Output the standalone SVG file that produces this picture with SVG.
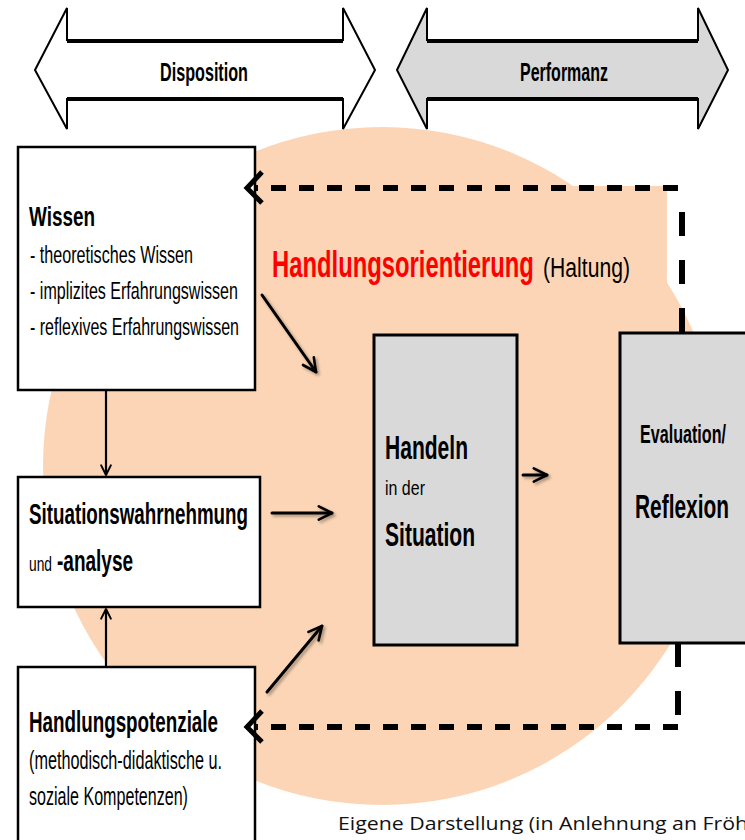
<svg xmlns="http://www.w3.org/2000/svg" width="745" height="840" viewBox="0 0 745 840">
<defs>
<style>
.n{font-family:"Liberation Sans Narrow","Liberation Sans",Arial,sans-serif;fill:#000}
.b{font-weight:bold}
.box{fill:#fff;stroke:#000;stroke-width:2.5}
.gbox{fill:#D9D9D9;stroke:#000;stroke-width:3}
.arr{fill:none;stroke:#000;stroke-width:3;stroke-linecap:round}
.dash{fill:none;stroke:#000;stroke-width:6}
</style>
<marker id="v" viewBox="0 0 10 10" refX="9" refY="5" markerWidth="5.5" markerHeight="5.5" orient="auto" markerUnits="strokeWidth">
<path d="M1,1 L9,5 L1,9" fill="none" stroke="#000" stroke-width="1.6" stroke-linecap="round" stroke-linejoin="round"/>
</marker>
<filter id="sh" x="-20%" y="-20%" width="140%" height="140%">
<feDropShadow dx="2" dy="2" stdDeviation="1.5" flood-color="#000" flood-opacity="0.35"/>
</filter>
</defs>
<rect width="745" height="840" fill="#fff"/>

<g id="background">
<circle cx="382" cy="466" r="339" fill="#FBD5B5"/>
<rect x="420" y="186" width="247" height="120" fill="#FBD5B5"/>
</g>

<g id="disposition">
<path d="M35,70 L67,8 L67,40 L343,40 L343,8 L375,70 L343,129 L343,99 L67,99 L67,129 Z" fill="#fff" stroke="#000" stroke-width="2"/>
<line x1="67" y1="41" x2="343" y2="41" stroke="#000" stroke-width="4"/>
<line x1="67" y1="99" x2="343" y2="99" stroke="#000" stroke-width="4"/>
<text class="n b" transform="translate(160,81) scale(0.7,1)" font-size="25" textLength="125.7" lengthAdjust="spacingAndGlyphs">Disposition</text>
</g>

<g id="performanz">
<path d="M397,70 L427,8 L427,40 L698,40 L698,8 L728,70 L698,129 L698,99 L427,99 L427,129 Z" fill="#D9D9D9" stroke="#000" stroke-width="2"/>
<line x1="427" y1="41" x2="698" y2="41" stroke="#000" stroke-width="4"/>
<line x1="427" y1="99" x2="698" y2="99" stroke="#000" stroke-width="4"/>
<text class="n b" transform="translate(520,81) scale(0.7,1)" font-size="25" textLength="125.7" lengthAdjust="spacingAndGlyphs">Performanz</text>
</g>

<g id="haltung">
<text class="n b" transform="translate(272,277) scale(0.645,1)" font-size="37" style="fill:#FF0000" textLength="406" lengthAdjust="spacingAndGlyphs">Handlungsorientierung</text>
<text class="n" transform="translate(543,277) scale(0.756,1)" font-size="28" textLength="115" lengthAdjust="spacingAndGlyphs">(Haltung)</text>
</g>

<g id="wissen">
<rect class="box" x="18" y="147" width="237" height="243"/>
<text class="n b" transform="translate(29,226) scale(0.7,1)" font-size="27" textLength="94.3" lengthAdjust="spacingAndGlyphs">Wissen</text>
<text class="n" transform="translate(30,263) scale(0.7,1)" font-size="24" textLength="232.9" lengthAdjust="spacingAndGlyphs">- theoretisches Wissen</text>
<text class="n" transform="translate(30,299) scale(0.7,1)" font-size="24" textLength="297.1" lengthAdjust="spacingAndGlyphs">- implizites Erfahrungswissen</text>
<text class="n" transform="translate(30,335) scale(0.7,1)" font-size="24" textLength="298.6" lengthAdjust="spacingAndGlyphs">- reflexives Erfahrungswissen</text>
</g>

<g id="situationswahrnehmung">
<rect class="box" x="18" y="477" width="242" height="130"/>
<text class="n b" transform="translate(29,524) scale(0.7,1)" font-size="30" textLength="312.9" lengthAdjust="spacingAndGlyphs">Situationswahrnehmung</text>
<text class="n" transform="translate(29,571) scale(0.7,1)" font-size="20" textLength="32.9" lengthAdjust="spacingAndGlyphs">und</text>
<text class="n b" transform="translate(57,571) scale(0.7,1)" font-size="30" textLength="108.6" lengthAdjust="spacingAndGlyphs">-analyse</text>
</g>

<g id="handlungspotenziale">
<rect class="box" x="18" y="667" width="237" height="190"/>
<text class="n b" transform="translate(29,732) scale(0.7,1)" font-size="30" textLength="270" lengthAdjust="spacingAndGlyphs">Handlungspotenziale</text>
<text class="n" transform="translate(29,769) scale(0.7,1)" font-size="25" textLength="275.7" lengthAdjust="spacingAndGlyphs">(methodisch-didaktische u.</text>
<text class="n" transform="translate(29,805) scale(0.7,1)" font-size="25" textLength="227.1" lengthAdjust="spacingAndGlyphs">soziale Kompetenzen)</text>
</g>

<g id="handeln">
<rect class="gbox" x="374" y="335" width="143" height="310"/>
<text class="n b" transform="translate(385,459) scale(0.7,1)" font-size="33" textLength="118.6" lengthAdjust="spacingAndGlyphs">Handeln</text>
<text class="n" transform="translate(385,495) scale(0.7,1)" font-size="20" textLength="57.1" lengthAdjust="spacingAndGlyphs">in der</text>
<text class="n b" transform="translate(385,546) scale(0.7,1)" font-size="33" textLength="128.6" lengthAdjust="spacingAndGlyphs">Situation</text>
</g>

<g id="evaluation">
<rect class="gbox" x="620" y="333" width="140" height="310"/>
<text class="n b" transform="translate(640,443) scale(0.7,1)" font-size="26" textLength="122.9" lengthAdjust="spacingAndGlyphs">Evaluation/</text>
<text class="n b" transform="translate(635,518) scale(0.7,1)" font-size="34" textLength="134.3" lengthAdjust="spacingAndGlyphs">Reflexion</text>
</g>

<g id="connectors">
<line x1="106" y1="390" x2="106" y2="475" stroke="#000" stroke-width="2.2" marker-end="url(#v)"/>
<line x1="106" y1="667" x2="106" y2="609" stroke="#000" stroke-width="2.2" marker-end="url(#v)"/>
<g filter="url(#sh)">
<line class="arr" x1="262" y1="295" x2="316" y2="372" marker-end="url(#v)"/>
<line class="arr" x1="272" y1="513" x2="332" y2="513" marker-end="url(#v)"/>
<line class="arr" x1="267" y1="692" x2="322" y2="626" marker-end="url(#v)"/>
<line class="arr" x1="523" y1="475" x2="547" y2="475" stroke-width="4" marker-end="url(#v)"/>
</g>
<path class="dash" d="M682,332 L682,188" stroke-dasharray="24 24"/>
<path class="dash" d="M678,188 L255,188" stroke-dasharray="15 13"/>
<path d="M262,172 L247,188 L262,203" fill="none" stroke="#000" stroke-width="5"/>
<path class="dash" d="M678,643 L678,727" stroke-dasharray="24 24"/>
<path class="dash" d="M678,727 L255,727" stroke-dasharray="15 13"/>
<path d="M262,711 L247,727 L262,742" fill="none" stroke="#000" stroke-width="5"/>
</g>

<text x="338" y="830" font-family="'Open Sans','Noto Sans',sans-serif" font-size="19" fill="#111" textLength="410" lengthAdjust="spacingAndGlyphs">Eigene Darstellung (in Anlehnung an Fröh</text>
</svg>
